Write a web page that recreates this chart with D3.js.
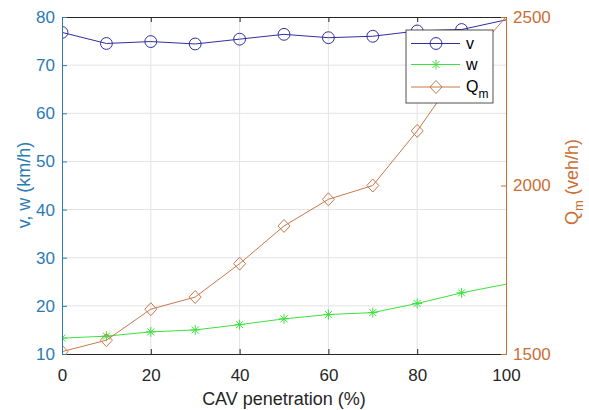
<!DOCTYPE html>
<html>
<head>
<meta charset="utf-8">
<script src="https://cdn.jsdelivr.net/npm/d3@7"></script>
<style>
  body { margin: 0; background: #fff; }
  svg { display: block; font-family: "Liberation Sans", Arial, sans-serif; }
</style>
</head>
<body>
<div id="chart"></div>
<script>
// data
const penetration = [0, 10, 20, 30, 40, 50, 60, 70, 80, 90, 100];
const vSpeed = [76.8, 74.5, 74.9, 74.4, 75.4, 76.4, 75.7, 76.0, 77.1, 77.4, 79.4];
const wSpeed = [13.3, 13.7, 14.6, 15.0, 16.1, 17.3, 18.2, 18.6, 20.5, 22.7, 24.5];
const qFlow = [1507, 1541, 1633, 1669, 1768, 1880, 1959, 2000, 2162, 2350, 2500];
const xTicks = [0, 20, 40, 60, 80, 100];
const leftTicks = [10, 20, 30, 40, 50, 60, 70, 80];
const rightTicks = [1500, 2000, 2500];

const W = 589, H = 410;
const m = {left: 62, right: 83, top: 17, bottom: 56};
const blue = "#2b7bb3", orange = "#c96f35";
const vCol = "#30309c", wCol = "#3ee03e", qCol = "#c8794a";

const svg = d3.select("#chart").append("svg").attr("width", W).attr("height", H);

const x = d3.scaleLinear().domain([0, 100]).range([m.left, W - m.right]);
const yL = d3.scaleLinear().domain([10, 80]).range([H - m.bottom, m.top]);
const yR = d3.scaleLinear().domain([1500, 2500]).range([H - m.bottom, m.top]);

//clip marks to the axes box
svg.append("defs").append("clipPath").attr("id", "plotclip")
    .append("rect").attr("x", m.left).attr("y", m.top)
    .attr("width", W - m.left - m.right).attr("height", H - m.top - m.bottom);

//grid
const grid = svg.append("g").attr("stroke", "#e3e3e3").attr("stroke-width", 1);
grid.selectAll(".gx").data(xTicks.slice(1, -1)).join("line")
    .attr("x1", d => x(d)).attr("x2", d => x(d))
    .attr("y1", m.top).attr("y2", H - m.bottom);
grid.selectAll(".gy").data(leftTicks.slice(1, -1)).join("line")
    .attr("x1", m.left).attr("x2", W - m.right)
    .attr("y1", d => yL(d)).attr("y2", d => yL(d));

//marker shapes
const circ = d3.symbol().type(d3.symbolCircle).size(110);
const diamPath = "M0,-6.5L6,0L0,6.5L-6,0Z";
function star(g, s) {
    g.append("path").attr("d", `M${-s},0H${s}M0,${-s}V${s}M${-s*0.7},${-s*0.7}L${s*0.7},${s*0.7}M${-s*0.7},${s*0.7}L${s*0.7},${-s*0.7}`);
}
function marker(g, kind) {
    if (kind === "o") g.append("path").attr("d", circ());
    else if (kind === "d") g.append("path").attr("d", diamPath);
    else star(g, 5);
}

const plot = svg.append("g").attr("clip-path", "url(#plotclip)");

function series(vals, yScale, col, kind) {
    const pts = penetration.map((p, i) => [x(p), yScale(vals[i])]);
    plot.append("path").attr("d", d3.line()(pts))
        .attr("fill", "none").attr("stroke", col).attr("stroke-width", 1);
    const mk = plot.append("g").attr("stroke", col).attr("fill", "none").attr("stroke-width", 1);
    //no marker shows at the last point in the original
    pts.slice(0, -1).forEach(p => {
        marker(mk.append("g").attr("transform", `translate(${p[0]},${p[1]})`), kind);
    });
}
series(vSpeed, yL, vCol, "o");
series(wSpeed, yL, wCol, "*");
series(qFlow, yR, qCol, "d");

//axes
const axBottom = svg.append("g").attr("transform", `translate(0,${H - m.bottom})`)
    .call(d3.axisBottom(x).tickValues(xTicks).tickSizeInner(-5).tickSizeOuter(0).tickPadding(15));
axBottom.select(".domain").attr("stroke", "#262626");
axBottom.selectAll(".tick line").attr("stroke", "#262626");
axBottom.selectAll("text").attr("fill", "#262626").style("font-size", "17px");

const axTop = svg.append("g").attr("transform", `translate(0,${m.top})`)
    .call(d3.axisTop(x).tickValues(xTicks).tickSizeInner(-5).tickSizeOuter(0).tickFormat(""));
axTop.select(".domain").attr("stroke", "#262626");
axTop.selectAll(".tick line").attr("stroke", "#262626");

const axLeft = svg.append("g").attr("transform", `translate(${m.left},0)`)
    .call(d3.axisLeft(yL).tickValues(leftTicks).tickSizeInner(-5).tickSizeOuter(0).tickPadding(7));
axLeft.select(".domain").attr("stroke", blue);
axLeft.selectAll(".tick line").attr("stroke", blue);
axLeft.selectAll("text").attr("fill", blue).style("font-size", "17px");

const axRight = svg.append("g").attr("transform", `translate(${W - m.right},0)`)
    .call(d3.axisRight(yR).tickValues(rightTicks).tickFormat(d3.format("d"))
        .tickSizeInner(-5).tickSizeOuter(0).tickPadding(7));
axRight.select(".domain").attr("stroke", orange);
axRight.selectAll(".tick line").attr("stroke", orange);
axRight.selectAll("text").attr("fill", orange).style("font-size", "17px");

//axis titles
svg.append("text").attr("x", 284).attr("y", 405)
    .attr("text-anchor", "middle").attr("fill", "#262626").style("font-size", "18px")
    .text("CAV penetration (%)");
svg.append("text").attr("transform", "translate(30,185) rotate(-90)")
    .attr("text-anchor", "middle").attr("fill", blue).style("font-size", "18px")
    .text("v, w (km/h)");
const rt = svg.append("text").attr("transform", "translate(578,182) rotate(-90)")
    .attr("text-anchor", "middle").attr("fill", orange).style("font-size", "18px");
rt.append("tspan").text("Q");
rt.append("tspan").attr("dy", 5).style("font-size", "13px").text("m");
rt.append("tspan").attr("dy", -5).text(" (veh/h)");

//legend
const lg = svg.append("g").attr("transform", "translate(406,30)");
lg.append("rect").attr("width", 87).attr("height", 73)
    .attr("fill", "#fff").attr("stroke", "#262626").attr("stroke-width", 0.8);
const entries = [
    {label: "v", col: vCol, kind: "o", y: 13.5},
    {label: "w", col: wCol, kind: "*", y: 34.5},
    {label: "Q", sub: "m", col: qCol, kind: "d", y: 57}
];
entries.forEach(e => {
    lg.append("line").attr("x1", 5).attr("x2", 54).attr("y1", e.y).attr("y2", e.y)
        .attr("stroke", e.col).attr("stroke-width", 1);
    const g = lg.append("g").attr("transform", `translate(30,${e.y})`)
        .attr("stroke", e.col).attr("fill", "none");
    marker(g, e.kind);
    const t = lg.append("text").attr("x", 60).attr("y", e.y + 5)
        .attr("fill", "#000").style("font-size", "16px").text(e.label);
    if (e.sub) t.append("tspan").attr("dy", 6).style("font-size", "12px").text(e.sub);
});
</script>
</body>
</html>
